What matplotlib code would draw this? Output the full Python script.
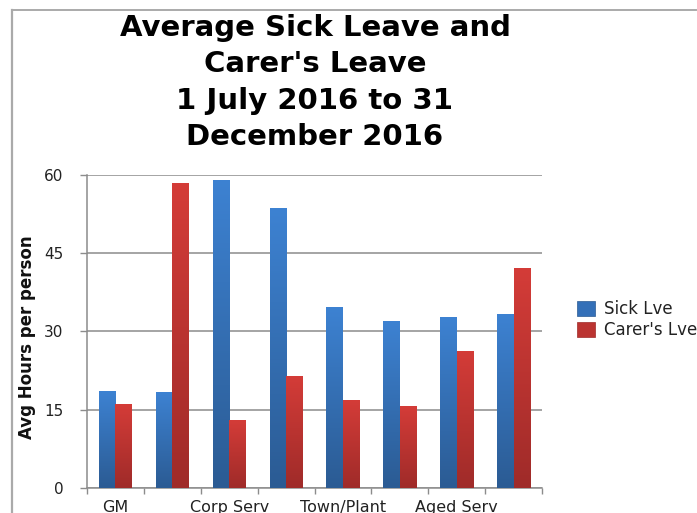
import numpy as np
import matplotlib
matplotlib.use("Agg")
import matplotlib.pyplot as plt
from matplotlib.patches import Patch
from matplotlib.lines import Line2D
from matplotlib.colors import LinearSegmentedColormap

# Data
groups = ["GM", "Group 2", "Corp Serv", "Group 4", "Town/Plant", "Group 6", "Aged Serv", "Group 8"]
tick_labels = ["GM", "", "Corp Serv", "", "Town/Plant", "", "Aged Serv", ""]
sick_lve = [18.6, 18.3, 59.1, 53.6, 34.6, 32.0, 32.7, 33.3]
carers_lve = [16.1, 58.4, 12.9, 21.5, 16.8, 15.7, 26.3, 42.2]
series_names = ["Sick Lve", "Carer's Lve"]
y_ticks = [0, 15, 30, 45, 60]
title_lines = ["Average Sick Leave and", "Carer's Leave", "1 July 2016 to 31", "December 2016"]

W, H = 697, 513
fig = plt.figure(figsize=(W / 100, H / 100), dpi=100)
fig.patch.set_facecolor("white")

# Outer frame (left and top edges)
fig.add_artist(Line2D([11.5 / W, 11.5 / W], [0, 1 - 10 / H], color="#aaaaaa", lw=1.6,
                      transform=fig.transFigure))
fig.add_artist(Line2D([11.5 / W, 696 / W], [1 - 10 / H, 1 - 10 / H], color="#aaaaaa", lw=1.4,
                      transform=fig.transFigure))

left, right = 87 / W, 542 / W
bottom, top = (H - 487.7) / H, (H - 175) / H
ax = fig.add_axes([left, bottom, right - left, top - bottom])

n = len(groups)
x = np.arange(n)
bw = 0.29

blue_cmap = LinearSegmentedColormap.from_list("blue", ["#2b5b93", "#3d82d2"])
red_cmap = LinearSegmentedColormap.from_list("red", ["#9f2b29", "#d43c38"])

grad = np.linspace(0, 1, 256).reshape(-1, 1)


def gradient_bars(bars, cmap):
    for b in bars:
        bx, by = b.get_x(), b.get_y()
        w, h = b.get_width(), b.get_height()
        im = ax.imshow(grad, cmap=cmap, origin="lower", aspect="auto",
                       extent=(bx, bx + w, by, by + h), zorder=3,
                       interpolation="bilinear")
        im.set_clip_path(b)


b1 = ax.bar(x - bw / 2, sick_lve, width=bw, color="none", edgecolor="none", zorder=3)
b2 = ax.bar(x + bw / 2, carers_lve, width=bw, color="none", edgecolor="none", zorder=3)
gradient_bars(b1, blue_cmap)
gradient_bars(b2, red_cmap)

ax.set_xlim(-0.5, n - 0.5)
ax.set_ylim(0, 60)

# Gridlines
ax.set_yticks(y_ticks)
ax.yaxis.grid(True, color="#8c8c8c", lw=1.1, zorder=0)
ax.set_axisbelow(True)

# Category ticks between groups, labels centred under groups
ax.set_xticks(np.arange(n + 1) - 0.5)
ax.set_xticklabels([])
ax.set_xticks(x, minor=True)
ax.set_xticklabels(tick_labels, minor=True, fontsize=11.5, color="#222222")
ax.tick_params(axis="x", which="minor", length=0, pad=9)
ax.tick_params(axis="x", which="major", length=4, color="#8c8c8c", width=1)
ax.tick_params(axis="y", length=5, color="#8c8c8c", width=1, labelsize=11,
               labelcolor="#222222", pad=12)

for s in ["top", "right"]:
    ax.spines[s].set_visible(False)
for s in ["left", "bottom"]:
    ax.spines[s].set_color("#8c8c8c")
    ax.spines[s].set_linewidth(1.1)

ax.set_ylabel("Avg Hours per person", fontsize=12, fontweight="bold", color="#111111")
ax.yaxis.set_label_coords((36 - 87) / (542 - 87), 0.48)

# Title
title_y = [28, 64.5, 101, 137]
for line, ty in zip(title_lines, title_y):
    fig.text(315 / W, 1 - ty / H, line, ha="center", va="center", fontsize=21,
             fontweight="bold", color="black")

# Legend
handles = [Patch(facecolor="#3470b8", edgecolor="#2b5b93", lw=0.5),
           Patch(facecolor="#bb3431", edgecolor="#9f2b29", lw=0.5)]
fig.legend(handles, series_names, loc="upper left",
           bbox_to_anchor=(577 / W, 1 - 300 / H), frameon=False, fontsize=12,
           handlelength=1.05, handleheight=1.05, handletextpad=0.55, labelspacing=0.2,
           borderpad=0, borderaxespad=0, labelcolor="#222222")

fig.savefig("out.png", dpi=100)
